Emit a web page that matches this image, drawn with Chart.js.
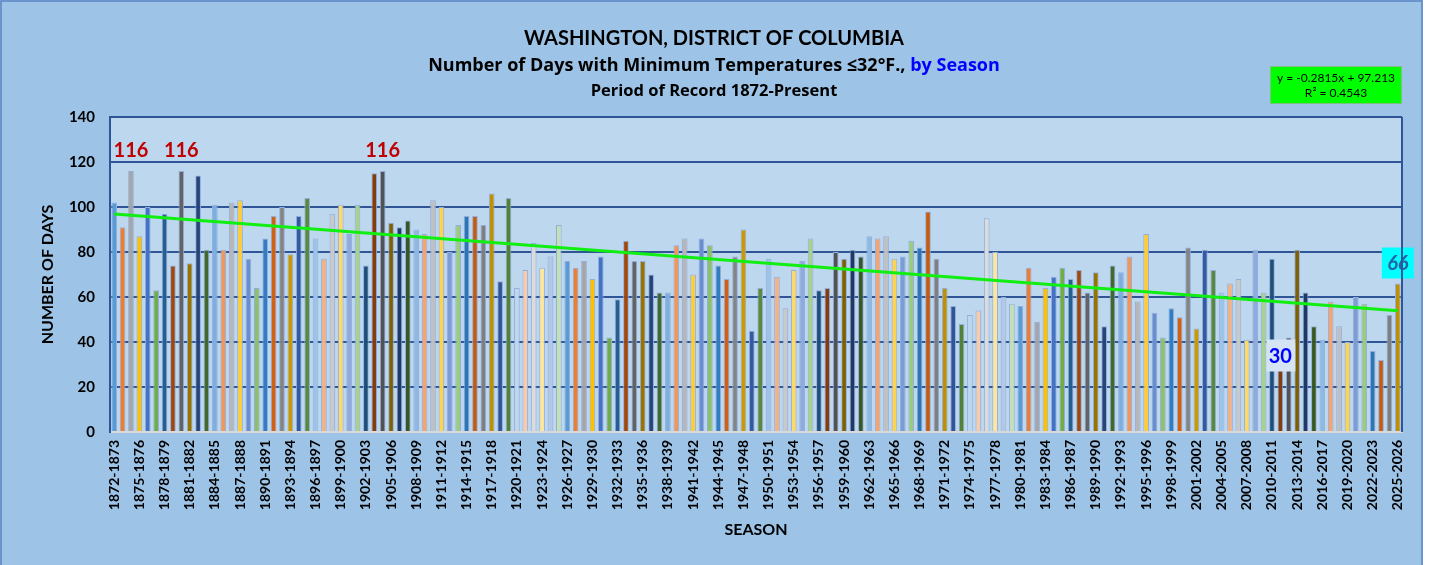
<!DOCTYPE html>
<html>
<head>
<meta charset="utf-8">
<script src="https://cdn.jsdelivr.net/npm/chart.js@4.4.1/dist/chart.umd.min.js"></script>
<style>
  html, body { margin: 0; padding: 0; background: #ffffff; }
  #wrap { width: 1430px; height: 565px; position: relative; }
</style>
</head>
<body>
<div id="wrap"><canvas id="chart"></canvas></div>
<script>
// seasons 1872-1873 .. 2025-2026
const firstYear = 1872;
const seasonCount = 154;
const seasons = [];
for (let i = 0; i < seasonCount; i++) {
  seasons.push((firstYear + i) + '-' + (firstYear + i + 1));
}

// days with min temp <= 32F
const freezeDays = [
  102, 91, 116, 87, 100, 63, 97, 74, 116, 75, 114, 81, 101, 81, 102, 103,
  77, 64, 86, 96, 100, 79, 96, 104, 86, 77, 97, 101, 88, 101, 74,
  115, 116, 93, 91, 94, 90, 88, 103, 100, 80, 92, 96, 96, 92, 106, 67,
  104, 64, 72, 84, 73, 78, 92, 76, 73, 76, 68, 78, 42, 59, 85,
  76, 76, 70, 62, 62, 83, 86, 70, 86, 83, 74, 68, 78, 90, 45, 64,
  77, 69, 55, 72, 76, 86, 63, 64, 80, 77, 81, 78, 87, 86, 87,
  77, 78, 85, 82, 98, 77, 64, 56, 48, 52, 54, 95, 80, 60, 57, 56,
  73, 49, 64, 69, 73, 68, 72, 62, 71, 47, 74, 71, 78, 58, 88,
  53, 42, 55, 51, 82, 46, 81, 72, 62, 66, 68, 41, 81, 62, 77,
  30, 42, 81, 62, 47, 41, 58, 47, 40, 60, 57, 36, 32, 52, 66
];

const yTicks = [0, 20, 40, 60, 80, 100, 120, 140];

// linear trend shown on the chart
const trendSlope = -0.2815;
const trendIntercept = 97.213;
const trendR2 = 0.4543;

// excel "vary colors by point" palette
const palette = [
  '#5B9BD5', '#ED7D31', '#A5A5A5', '#FFC000', '#4472C4', '#70AD47',
  '#255E91', '#9E480E', '#636363', '#997300', '#264478', '#43682B',
  '#7CAFDD', '#F1975A', '#B7B7B7', '#FFCD33', '#698ED0', '#8CC168',
  '#327DC2', '#D26012', '#848484', '#CC9A00', '#335AA1', '#5A8A39',
  '#9DC3E6', '#F4B183', '#C9C9C9', '#FFD966', '#8FAADC', '#A9D18E',
  '#1F4E79', '#843C0C', '#525252', '#7F6000', '#203864', '#385723',
  '#8DB9E2', '#F3A470', '#C0C0C0', '#FFD34D', '#7C9CD6', '#9BCB7C',
  '#2E75B6', '#C55A11', '#7F7F7F', '#BF9000', '#2F5597', '#548235',
  '#BDD7EE', '#F8CBAD', '#DBDBDB', '#FFE699', '#B4C7E7', '#C5E0B4'
];

const FONT = 'Lato, "Open Sans", sans-serif';
const TFONT = '"Open Sans", Lato, sans-serif';
const lastIdx = freezeDays.length - 1;
const maxDays = Math.max(...freezeDays);
const minDays = Math.min(...freezeDays);

const trendData = freezeDays.map((v, i) =>
  (i === 0 || i === lastIdx) ? trendIntercept + trendSlope * (i + 1) : null);

const decorPlugin = {
  id: 'decor',
  beforeDraw(chart) {
    const ctx = chart.ctx;
    const a = chart.chartArea;
    ctx.save();
    ctx.fillStyle = '#9DC3E6';
    ctx.fillRect(0, 0, 1423, chart.height);
    ctx.strokeStyle = '#5B84C4';
    ctx.lineWidth = 1.5;
    ctx.strokeRect(1, 1, 1421, chart.height + 5);
    ctx.fillStyle = '#BDD7EE';
    ctx.fillRect(a.left, a.top, a.right - a.left, a.bottom - a.top);
    ctx.restore();
  },
  afterDraw(chart) {
    const ctx = chart.ctx;
    const a = chart.chartArea;
    ctx.save();
    // plot border, right side
    ctx.strokeStyle = '#2F5597';
    ctx.lineWidth = 2;
    ctx.beginPath();
    ctx.moveTo(a.right, a.top);
    ctx.lineTo(a.right, a.bottom);
    ctx.stroke();

    // titles
    ctx.fillStyle = '#000';
    ctx.textAlign = 'center';
    ctx.textBaseline = 'middle';
    ctx.font = 'bold 20px ' + FONT;
    ctx.fillText('WASHINGTON, DISTRICT OF COLUMBIA', 714, 39);

    ctx.font = 'bold 18px ' + TFONT;
    const p1 = 'Number of Days with Minimum Temperatures \u226432\u00B0F., ';
    const p2 = 'by Season';
    const w1 = ctx.measureText(p1).width;
    const w2 = ctx.measureText(p2).width;
    const sx = 714 - (w1 + w2) / 2;
    ctx.textAlign = 'left';
    ctx.fillText(p1, sx, 66);
    ctx.fillStyle = '#0000FF';
    ctx.fillText(p2, sx + w1, 66);

    ctx.fillStyle = '#000';
    ctx.textAlign = 'center';
    ctx.font = 'bold 16.5px ' + TFONT;
    ctx.fillText('Period of Record 1872-Present', 714, 91);

    // axis titles
    ctx.font = 'bold 16px ' + FONT;
    ctx.fillText('SEASON', (a.left + a.right) / 2, 530);
    ctx.save();
    ctx.translate(48, (a.top + a.bottom) / 2);
    ctx.rotate(-Math.PI / 2);
    ctx.fillText('NUMBER OF DAYS', 0, 0);
    ctx.restore();

    // trendline equation box
    ctx.fillStyle = '#00FF00';
    ctx.fillRect(1270, 66, 132, 38);
    ctx.strokeStyle = '#7FBF7F';
    ctx.lineWidth = 1;
    ctx.strokeRect(1270.5, 66.5, 131, 37);
    ctx.fillStyle = '#000';
    ctx.font = '12px ' + FONT;
    ctx.fillText('y = ' + trendSlope + 'x + ' + trendIntercept, 1336, 78);
    ctx.fillText('R\u00B2 = ' + trendR2, 1336, 93);
    ctx.restore();
  },
  afterDatasetsDraw(chart) {
    const ctx = chart.ctx;
    const meta = chart.getDatasetMeta(1);
    ctx.save();
    ctx.textAlign = 'center';
    ctx.textBaseline = 'middle';
    freezeDays.forEach((v, i) => {
      const bar = meta.data[i];
      if (v === maxDays) {
        ctx.fillStyle = '#C00000';
        ctx.font = 'bold 20px ' + FONT;
        ctx.fillText(String(v), bar.x, bar.y - 20);
      } else if (v === minDays) {
        ctx.fillStyle = '#D4E4F4';
        ctx.fillRect(bar.x - 14, bar.y - 25, 29, 32);
        ctx.fillStyle = '#0000FF';
        ctx.font = 'bold 20px ' + FONT;
        ctx.fillText(String(v), bar.x, bar.y - 8);
      }
      if (i === lastIdx) {
        ctx.fillStyle = '#00FFFF';
        ctx.fillRect(bar.x - 16, bar.y - 36, 32, 31);
        ctx.fillStyle = '#2563A8';
        ctx.font = 'italic bold 20px ' + FONT;
        ctx.fillText(String(v), bar.x, bar.y - 20);
      }
    });
    ctx.restore();
  }
};

new Chart(document.getElementById('chart'), {
  data: {
    labels: seasons,
    datasets: [
      {
        type: 'line',
        label: 'Trend',
        data: trendData,
        borderColor: '#11EE11',
        borderWidth: 3,
        pointRadius: 0,
        spanGaps: true,
        order: 1
      },
      {
        type: 'bar',
        label: 'Days',
        data: freezeDays,
        backgroundColor: freezeDays.map((v, i) => palette[i % palette.length]),
        borderColor: '#93AEDC',
        borderWidth: 1,
        categoryPercentage: 0.9,
        barPercentage: 0.75,
        order: 2
      }
    ]
  },
  options: {
    responsive: true,
    maintainAspectRatio: false,
    animation: false,
    layout: { padding: { top: 117, right: 28, left: 0, bottom: 0 } },
    plugins: {
      legend: { display: false },
      tooltip: { enabled: false }
    },
    scales: {
      x: {
        grid: { display: false, drawTicks: false },
        border: { color: '#D9D9D9', width: 2 },
        ticks: {
          autoSkip: false,
          maxRotation: 90,
          minRotation: 90,
          padding: 8,
          color: '#000',
          font: { family: FONT, size: 14, weight: 'bold' },
          callback: function (v, i) { return i % 3 === 0 ? this.getLabelForValue(v) : ''; }
        },
        afterFit: (s) => { s.height = 133; }
      },
      y: {
        min: yTicks[0],
        max: yTicks[yTicks.length - 1],
        afterBuildTicks: (s) => { s.ticks = yTicks.map(v => ({ value: v })); },
        grid: {
          drawTicks: false,
          color: (c) => c.tick && c.tick.value === 0 ? '#D9D9D9' : '#2F5597',
          lineWidth: 2
        },
        border: { color: '#2F5597', width: 2 },
        ticks: {
          padding: 15,
          color: '#000',
          font: { family: FONT, size: 15, weight: 'bold' }
        },
        afterFit: (s) => { s.width = 110; }
      }
    }
  },
  plugins: [decorPlugin]
});
</script>
</body>
</html>
